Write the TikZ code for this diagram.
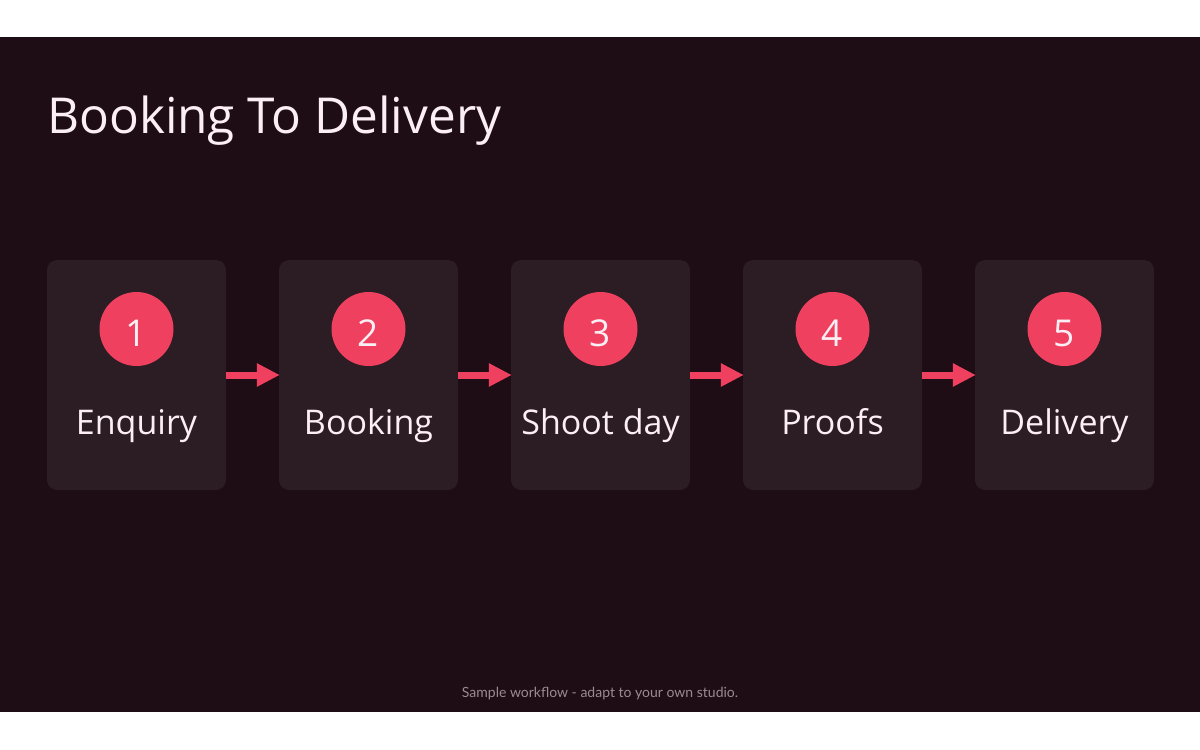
\documentclass[tikz,border=0pt]{standalone}
\usepackage{fontspec}
\setmainfont{Open Sans}
\newfontfamily\titlefont{Lato}
\usetikzlibrary{arrows.meta}
\definecolor{bgdark}{HTML}{1F0D16}
\definecolor{boxfill}{HTML}{2C1C24}
\definecolor{accent}{HTML}{F0405F}
\definecolor{txtlight}{HTML}{FBEEF4}
\definecolor{footgray}{HTML}{9A8A92}
\tikzset{
  stepbox/.style={fill=boxfill, rounded corners=10pt, minimum width=179pt, minimum height=230pt, inner sep=0pt, draw=none},
  numdot/.style={circle, fill=accent, minimum size=74pt, inner sep=0pt},
  numtext/.style={text=txtlight, font=\fontsize{37}{40}\selectfont, inner sep=0pt, anchor=base},
  steplabel/.style={text=txtlight, font=\fontsize{34}{40}\selectfont, inner sep=0pt},
  flowarrow/.style={draw=accent, line width=7pt, -{Triangle[length=23pt, width=22pt]}, shorten >=-1pt}
}
\begin{document}
\begin{tikzpicture}[x=1pt,y=-1pt]
\useasboundingbox (0,0) rectangle (1200,750);
\fill[white] (0,0) rectangle (1200,750);
\fill[bgdark] (0,37) rectangle (1200,712);
\node[anchor=base west, inner sep=0pt, text=txtlight, font=\fontsize{49.5}{54}\selectfont] (title) at (47,133) {Booking To Delivery};
\foreach \i/\lab in {1/Enquiry,2/Booking,3/Shoot day,4/Proofs,5/Delivery}{
  \pgfmathsetmacro{\cx}{136.5+232*(\i-1)}
  \node[stepbox] (box\i) at (\cx,375) {};
  \node[numdot] (num\i) at (\cx,329) {};
  \node[numtext] (numt\i) at (\cx,346) {\i};
  \node[steplabel, anchor=base] (lab\i) at (\cx,434) {\lab};
}
\foreach \a/\b in {1/2,2/3,3/4,4/5}{
  \draw[flowarrow] (box\a.east) -- (box\b.west);
}
\node[text=footgray, font=\titlefont\fontsize{14}{16}\selectfont] (foot) at (600,694) {Sample workflow - adapt to your own studio.};
\end{tikzpicture}
\end{document}
